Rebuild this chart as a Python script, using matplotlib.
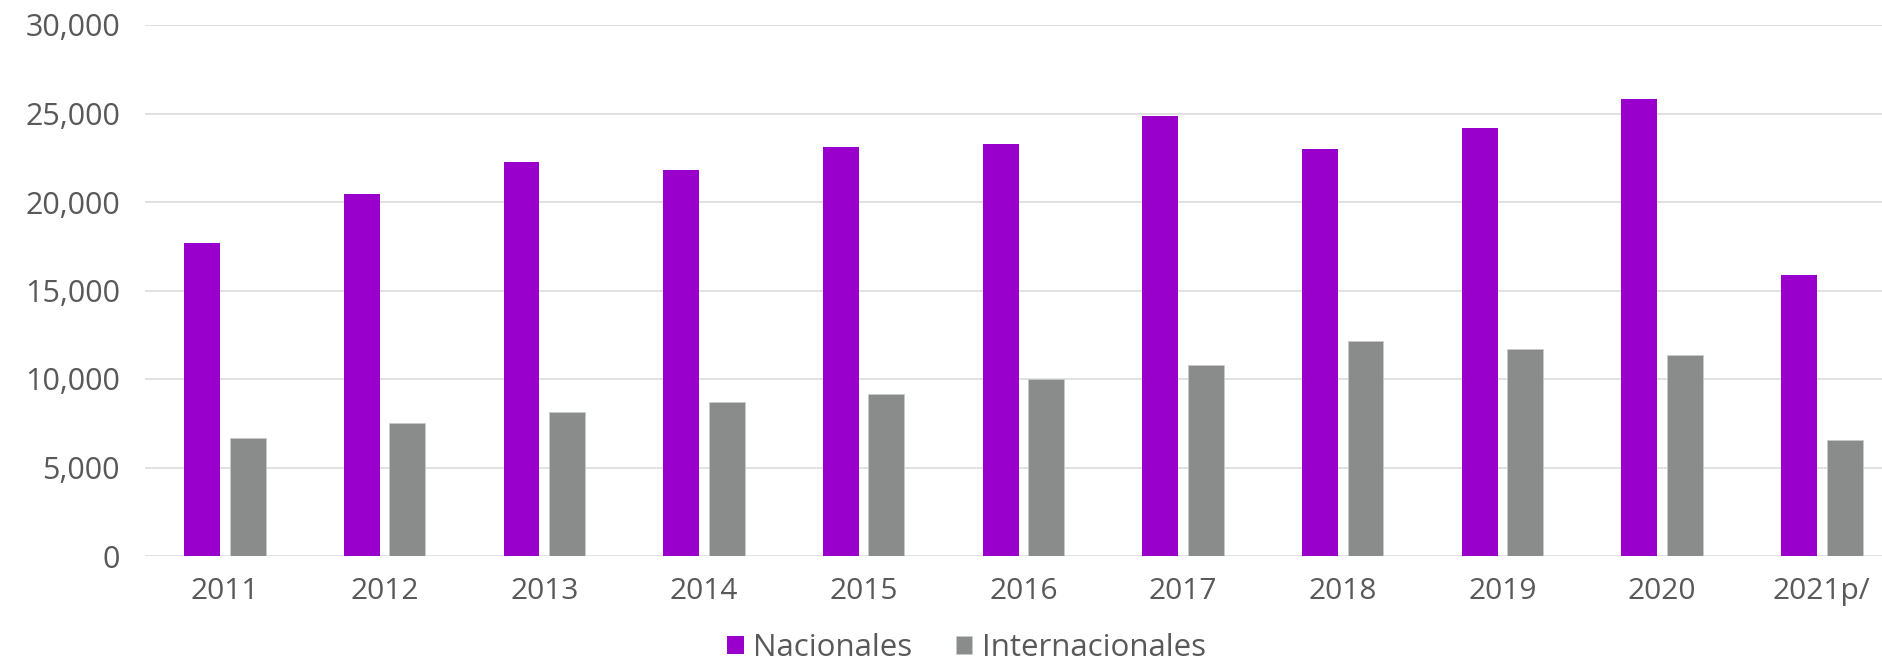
import matplotlib
matplotlib.use("Agg")
import matplotlib.pyplot as plt
import numpy as np

years = ["2011", "2012", "2013", "2014", "2015", "2016", "2017", "2018", "2019", "2020", "2021p/"]
nacionales = [17700, 20480, 22260, 21810, 23100, 23300, 24850, 23000, 24200, 25800, 15850]
internacionales = [6650, 7510, 8120, 8680, 9150, 10000, 10790, 12170, 11710, 11380, 6570]

purple = "#9900CC"
grey = "#8A8C8C"
text_c = "#595959"

plt.rcParams['font.family'] = ['Open Sans', 'DejaVu Sans']

fig = plt.figure(figsize=(18.83, 6.61), dpi=100)
ax = fig.add_axes([145/1883, 105/661, 1 - 145/1883, 531/661])

x = np.arange(len(years))
w = 0.225
off = 0.1425
ax.bar(x - off, nacionales, w, color=purple, label="Nacionales", zorder=3)
ax.bar(x + off, internacionales, w, color=grey, edgecolor="#C8C9C9", linewidth=0.6,
       label="Internacionales", zorder=3)

ax.set_ylim(0, 30000)
ax.set_xlim(-0.5, 10.383)
ax.set_yticks(np.arange(0, 30001, 5000))
ax.yaxis.set_major_formatter(matplotlib.ticker.FuncFormatter(lambda v, p: f"{int(v):,}"))
ax.set_xticks(x)
ax.set_xticklabels(years)
ax.grid(axis="y", color="#D9D9D9", linewidth=1.1, zorder=0)
ax.tick_params(axis="both", length=0, labelcolor=text_c)
ax.tick_params(axis="y", pad=18, labelsize=22)
ax.tick_params(axis="x", pad=15, labelsize=21.5)
for s in ax.spines.values():
    s.set_visible(False)

leg = fig.legend(loc="center", bbox_to_anchor=(0.5133, 0.019), ncol=2, frameon=False,
                 fontsize=22.5, handlelength=0.52, handleheight=0.52, handletextpad=0.3,
                 columnspacing=1.4)
for t in leg.get_texts():
    t.set_color(text_c)

fig.savefig("out.png", dpi=100)
